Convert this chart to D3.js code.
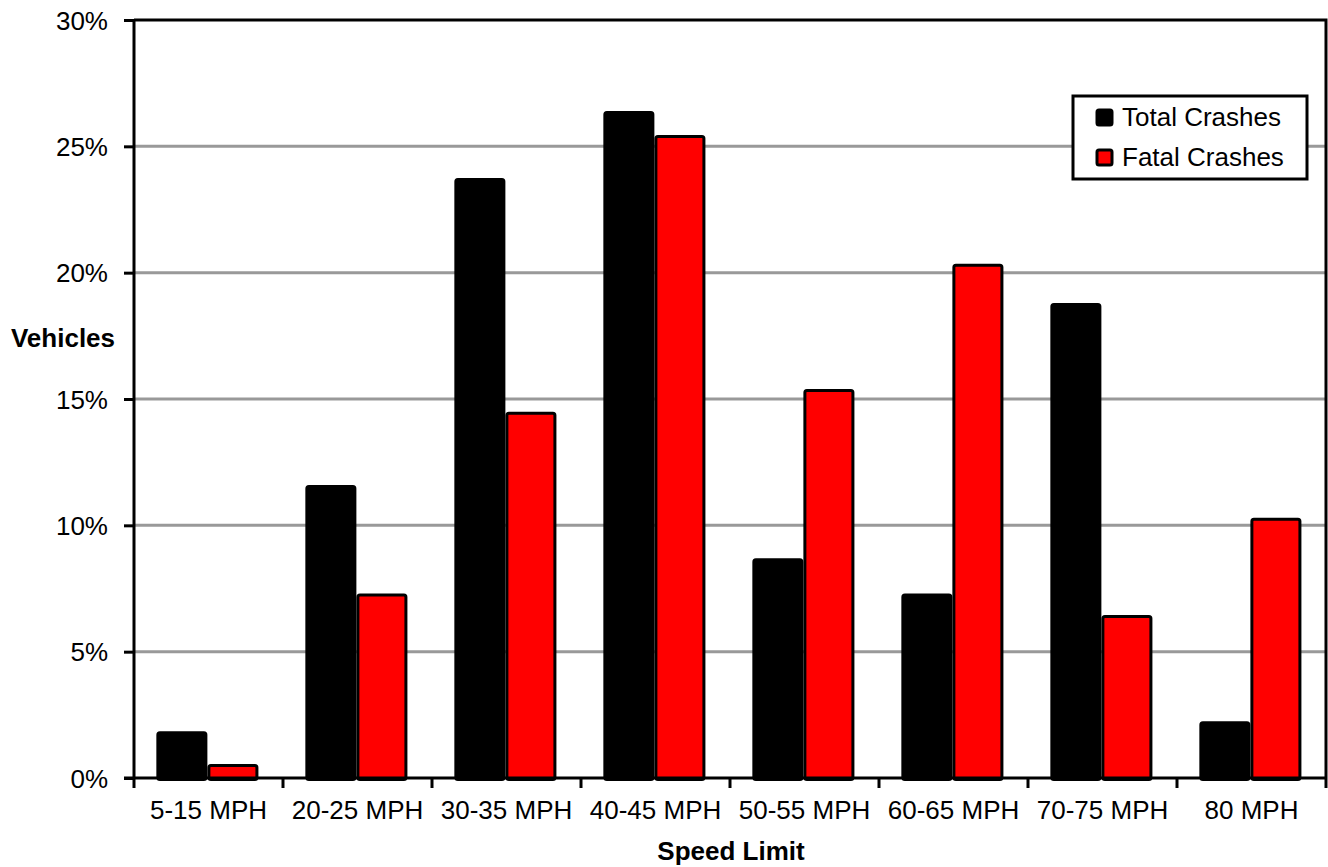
<!DOCTYPE html>
<html>
<head>
<meta charset="utf-8">
<script src="https://cdn.jsdelivr.net/npm/d3@7"></script>
<style>
body { margin: 0; background: #fff; }
text { font-family: "Liberation Sans", Arial, sans-serif; fill: #000; }
</style>
</head>
<body>
<script>
var categories = ["5-15 MPH", "20-25 MPH", "30-35 MPH", "40-45 MPH", "50-55 MPH", "60-65 MPH", "70-75 MPH", "80 MPH"];
var totalCrashes = [1.85, 11.6, 23.75, 26.4, 8.7, 7.3, 18.8, 2.25];
var fatalCrashes = [0.55, 7.3, 14.5, 25.45, 15.4, 20.35, 6.45, 10.3];
var seriesNames = ["Total Crashes", "Fatal Crashes"];
var seriesColors = ["#000000", "#ff0000"];
var yTicks = [0, 5, 10, 15, 20, 25, 30];

var w = 1328;
var h = 867;
var plotLeft = 134, plotRight = 1326, plotTop = 20, plotBottom = 778;

var svg = d3.select("body")
	.append("svg")
	.attr("width", w)
	.attr("height", h);

var x = d3.scaleBand()
	.domain(categories)
	.range([plotLeft, plotRight]);

var x1 = d3.scaleBand()
	.domain(seriesNames)
	.range([x.bandwidth() * 0.15, x.bandwidth() * 0.835]);

var y = d3.scaleLinear()
	.domain([0, 30])
	.range([plotBottom, plotTop]);

//gridlines
svg.append("g")
	.selectAll("line")
	.data(yTicks.filter(function(d) { return d > 0 && d < 30; }))
	.enter()
	.append("line")
	.attr("x1", plotLeft)
	.attr("x2", plotRight)
	.attr("y1", function(d) { return y(d); })
	.attr("y2", function(d) { return y(d); })
	.attr("stroke", "#999")
	.attr("stroke-width", 3);

//bars
var groups = svg.selectAll("g.group")
	.data(categories)
	.enter()
	.append("g")
	.attr("class", "group")
	.attr("transform", function(d) { return "translate(" + x(d) + ",0)"; });

groups.selectAll("rect")
	.data(function(d, i) {
		return [{s: seriesNames[0], v: totalCrashes[i], c: seriesColors[0]},
		        {s: seriesNames[1], v: fatalCrashes[i], c: seriesColors[1]}];
	})
	.enter()
	.append("rect")
	.attr("x", function(d) { return x1(d.s) + 1.5; })
	.attr("y", function(d) { return y(d.v) + 1.5; })
	.attr("width", x1.bandwidth() - 3)
	.attr("height", function(d) { return plotBottom - y(d.v); })
	.attr("rx", 2)
	.attr("fill", function(d) { return d.c; })
	.attr("stroke", "#000")
	.attr("stroke-width", 3);

//plot border top/right
svg.append("path")
	.attr("d", "M" + plotLeft + "," + plotTop + "H" + plotRight + "V" + plotBottom)
	.attr("fill", "none")
	.attr("stroke", "#000")
	.attr("stroke-width", 3);

//y axis
var yAxis = d3.axisLeft(y)
	.tickValues(yTicks)
	.tickSize(10)
	.tickPadding(16)
	.tickFormat(function(d) { return d + "%"; });

var gy = svg.append("g")
	.attr("transform", "translate(" + plotLeft + ",0)")
	.call(yAxis);
gy.select(".domain").attr("stroke-width", 3).attr("d", "M0," + plotTop + "V" + plotBottom);
gy.selectAll(".tick line").attr("stroke-width", 3);
gy.selectAll(".tick text")
	.style("font-size", "26px")
	.style("font-family", "'Liberation Sans', Arial, sans-serif")
	.attr("dy", "0.35em");

//x axis
var xTickPos = categories.map(function(d) { return x(d); }).concat([plotRight]);
var gx = svg.append("g");
gx.append("line")
	.attr("x1", plotLeft - 10)
	.attr("x2", plotRight)
	.attr("y1", plotBottom)
	.attr("y2", plotBottom)
	.attr("stroke", "#000")
	.attr("stroke-width", 3);
gx.selectAll("line.tk")
	.data(xTickPos)
	.enter()
	.append("line")
	.attr("class", "tk")
	.attr("x1", function(d) { return d; })
	.attr("x2", function(d) { return d; })
	.attr("y1", plotBottom)
	.attr("y2", plotBottom + 10)
	.attr("stroke", "#000")
	.attr("stroke-width", 3);
gx.selectAll("text")
	.data(categories)
	.enter()
	.append("text")
	.attr("x", function(d) { return x(d) + x.bandwidth() / 2; })
	.attr("y", 819)
	.attr("text-anchor", "middle")
	.style("font-size", "26px")
	.text(function(d) { return d; });

//axis titles
svg.append("text")
	.attr("x", 731)
	.attr("y", 860)
	.attr("text-anchor", "middle")
	.style("font-size", "26px")
	.style("font-weight", "bold")
	.text("Speed Limit");

svg.append("text")
	.attr("x", 63)
	.attr("y", 347)
	.attr("text-anchor", "middle")
	.style("font-size", "26px")
	.style("font-weight", "bold")
	.text("Vehicles");

//legend
var legend = svg.append("g")
	.attr("transform", "translate(1073,96)");
legend.append("rect")
	.attr("width", 234)
	.attr("height", 83)
	.attr("fill", "#fff")
	.attr("stroke", "#000")
	.attr("stroke-width", 3);

var items = legend.selectAll("g.item")
	.data(seriesNames)
	.enter()
	.append("g")
	.attr("class", "item")
	.attr("transform", function(d, i) { return "translate(0," + (i * 40) + ")"; });

items.append("rect")
	.attr("x", 24)
	.attr("y", 14)
	.attr("width", 15)
	.attr("height", 15)
	.attr("rx", 2)
	.attr("fill", function(d, i) { return seriesColors[i]; })
	.attr("stroke", "#000")
	.attr("stroke-width", 3);

items.append("text")
	.attr("x", 49)
	.attr("y", 30)
	.style("font-size", "26px")
	.text(function(d) { return d; });
</script>
</body>
</html>
